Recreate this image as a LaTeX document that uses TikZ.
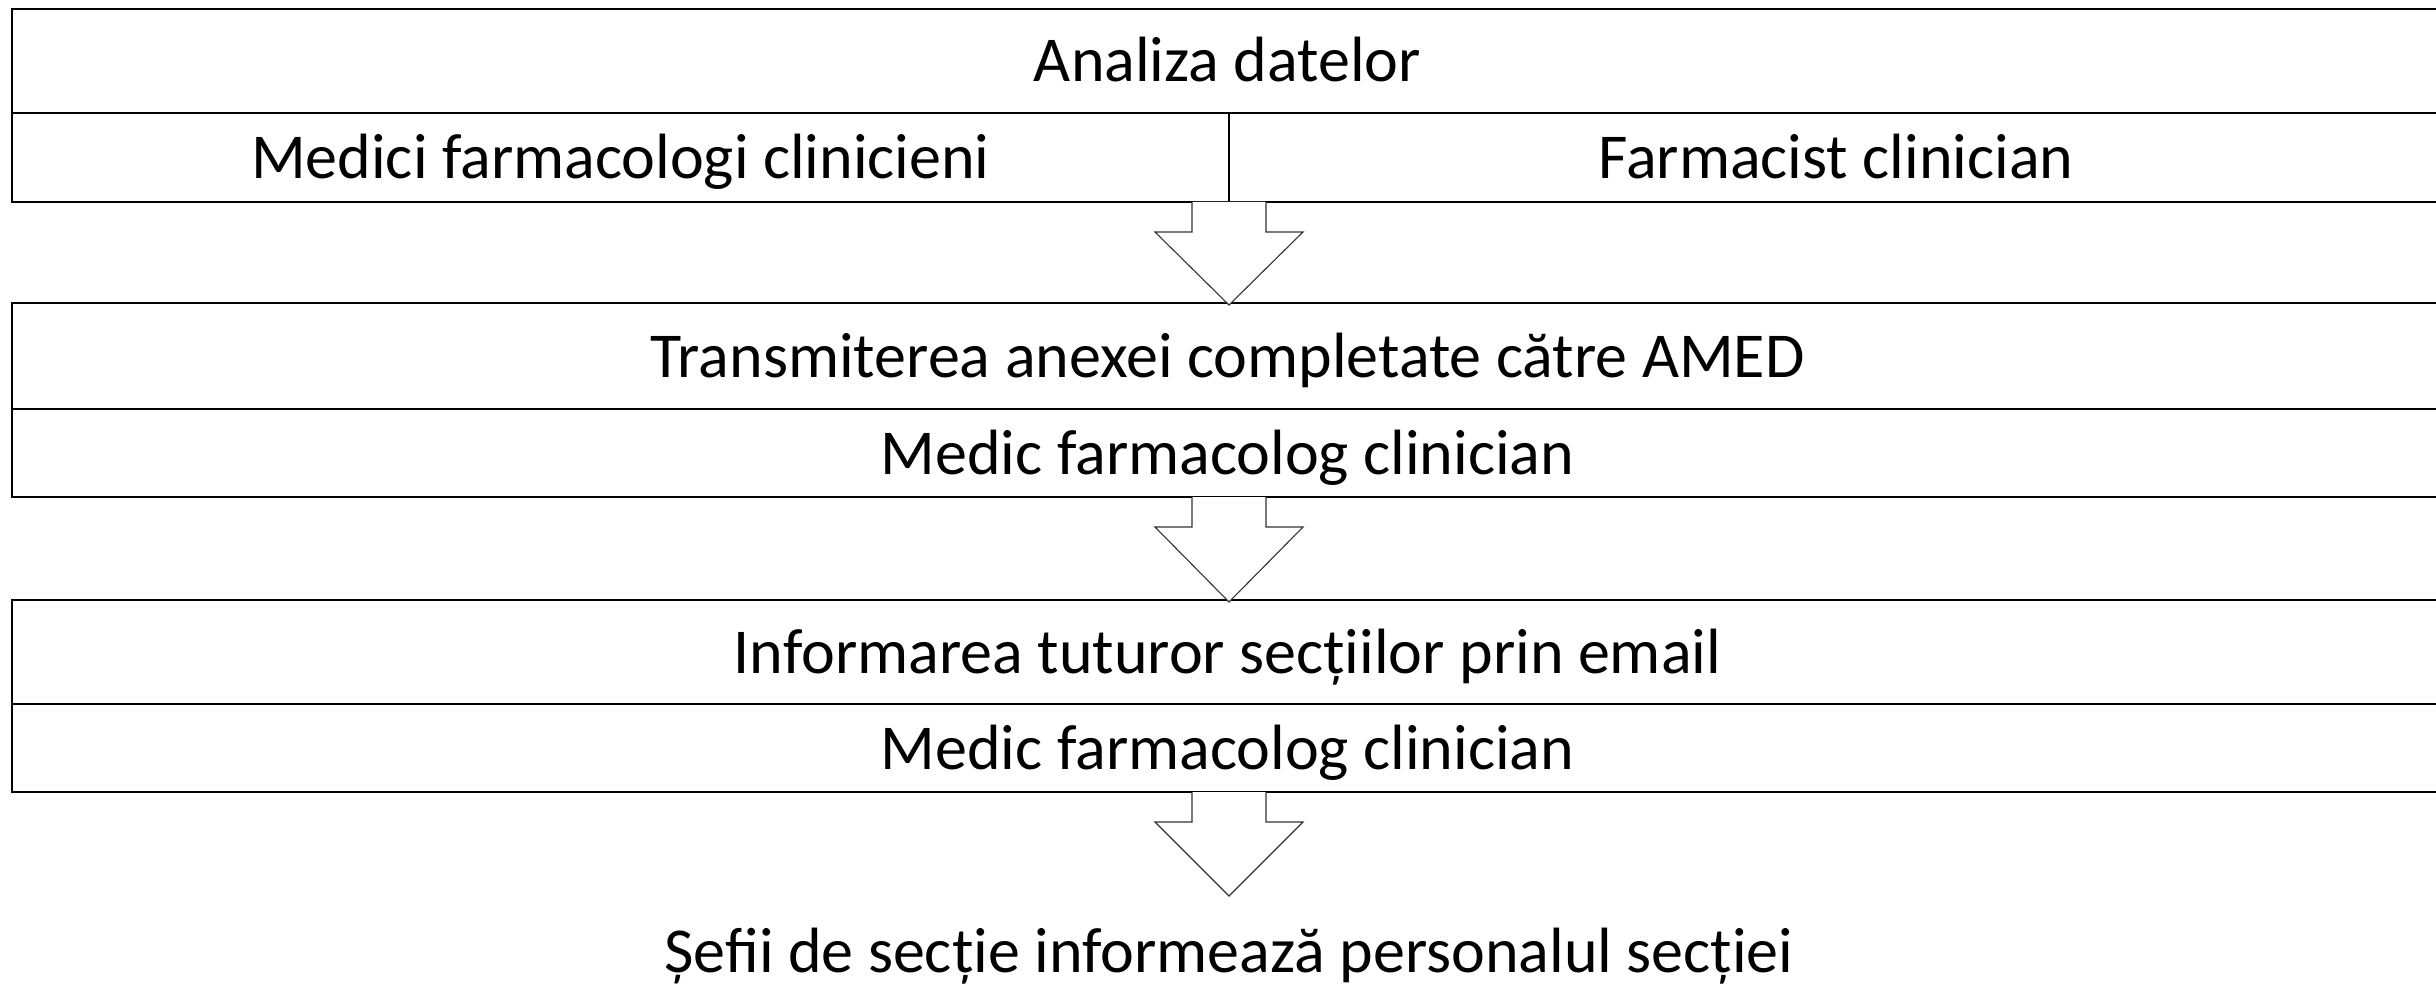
\documentclass[tikz,border=0pt]{standalone}
\usepackage{fontspec}
\setmainfont{Carlito}
\usetikzlibrary{calc}
\begin{document}
\begin{tikzpicture}[x=1pt,y=-1pt,
  cell/.style={draw=black, line width=1.8pt, inner sep=0pt, outer sep=0pt,
    anchor=north west, font=\fontsize{64}{70}\selectfont, text=black,
    text height=50pt, text depth=8pt},
  barrow/.style={draw=black!80, fill=white, line width=1.1pt, line join=miter},
  lbl/.style={inner sep=0pt, font=\fontsize{64}{70}\selectfont, text=black}]
\useasboundingbox (0,0) rectangle (2436,984);
\clip (0,0) rectangle (2436,984);
\fill[white] (0,0) rectangle (2436,984);
% block 1
\node[cell, minimum width=2431pt, minimum height=104pt] (r1) at (12,9) {Analiza datelor};
\node[cell, minimum width=1217pt, minimum height=89pt] (r1a) at (12,113) {Medici farmacologi clinicieni};
\node[cell, minimum width=1214pt, minimum height=89pt] (r1b) at (1229,113) {Farmacist clinician};
% block 2
\node[cell, minimum width=2431pt, minimum height=106pt] (r2) at (12,303) {Transmiterea anexei completate către AMED};
\node[cell, minimum width=2431pt, minimum height=88pt] (r2b) at (12,409) {Medic farmacolog clinician};
% block 3
\node[cell, minimum width=2431pt, minimum height=104pt] (r3) at (12,600) {Informarea tuturor secțiilor prin email};
\node[cell, minimum width=2431pt, minimum height=88pt] (r3b) at (12,704) {Medic farmacolog clinician};
% final text
\node[lbl] (r4) at (1229,956) {Șefii de secție informează personalul secției};
% arrow anchors
\coordinate (s1) at (r1b.south west);
\coordinate (e1) at ($(s1 |- r2.north)+(0,2)$);
\coordinate (s2) at (s1 |- r2b.south);
\coordinate (e2) at ($(s1 |- r3.north)+(0,2)$);
\coordinate (s3) at (s1 |- r3b.south);
\coordinate (e3) at ($(s3)+(0,104)$);
\foreach \s/\e in {s1/e1, s2/e2, s3/e3} {
  \path[barrow] ($(\s)+(-37,0)$) -- ($(\s)+(-37,30)$) -- ($(\s)+(-74,30)$) -- (\e)
    -- ($(\s)+(74,30)$) -- ($(\s)+(37,30)$) -- ($(\s)+(37,0)$);
}
\end{tikzpicture}
\end{document}
